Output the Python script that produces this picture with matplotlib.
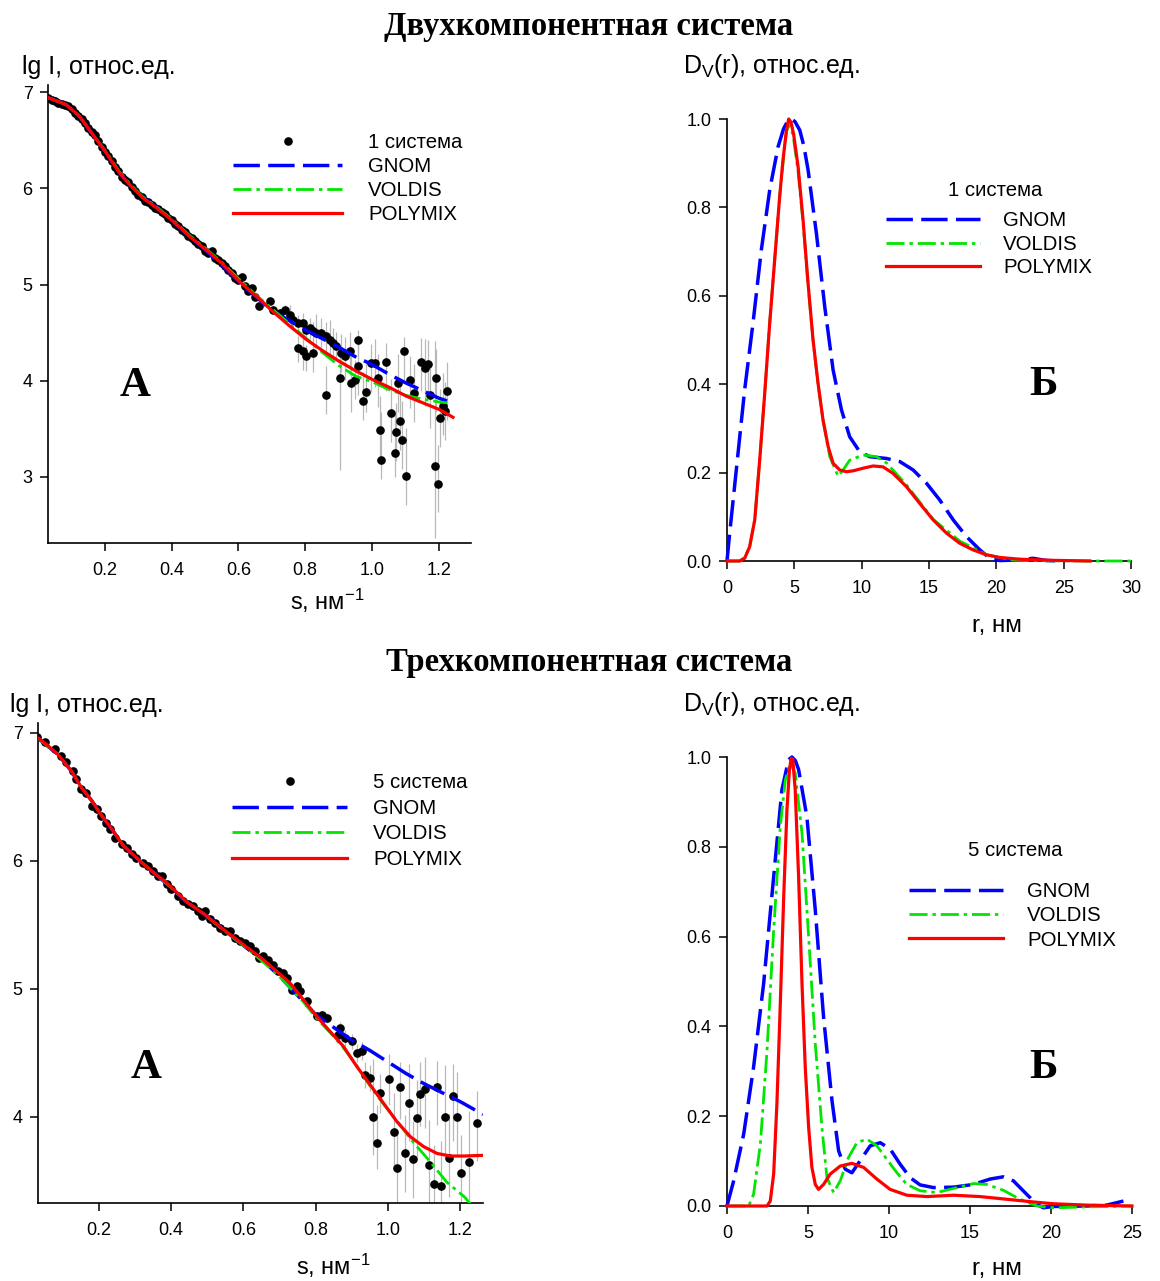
import matplotlib
matplotlib.use('Agg')
import matplotlib.pyplot as plt

plt.rcParams['font.family'] = ['Liberation Sans', 'DejaVu Sans']
plt.rcParams['mathtext.fontset'] = 'custom'
plt.rcParams['mathtext.rm'] = 'Liberation Sans'
plt.rcParams['mathtext.it'] = 'Liberation Sans:italic'
plt.rcParams['lines.scale_dashes'] = False

# ---------------- DATA: two-component system (scattering) ----------------
s1_head = [0.03, 0.04, 0.05, 0.06, 0.07, 0.08, 0.09, 0.10, 0.11, 0.12, 0.13, 0.14, 0.15, 0.16,
           0.17, 0.18, 0.19, 0.20, 0.21, 0.22, 0.23, 0.24, 0.25, 0.26, 0.27, 0.28, 0.29, 0.30,
           0.31, 0.32, 0.33, 0.34, 0.35, 0.36, 0.37, 0.38, 0.39, 0.40, 0.41, 0.42, 0.43, 0.44,
           0.45, 0.46, 0.47, 0.48, 0.49, 0.50, 0.51, 0.52, 0.53, 0.54, 0.55, 0.56, 0.57, 0.58,
           0.59, 0.60, 0.61, 0.62, 0.63, 0.64, 0.65]
lg1_head = [6.94, 6.92, 6.91, 6.89, 6.88, 6.87, 6.85, 6.82, 6.78, 6.75, 6.72, 6.68, 6.63, 6.58,
            6.55, 6.49, 6.43, 6.38, 6.34, 6.28, 6.22, 6.18, 6.12, 6.09, 6.06, 6.01, 5.97, 5.93,
            5.91, 5.87, 5.86, 5.83, 5.80, 5.78, 5.75, 5.73, 5.69, 5.67, 5.63, 5.61, 5.57, 5.55,
            5.50, 5.48, 5.45, 5.42, 5.40, 5.35, 5.33, 5.35, 5.28, 5.25, 5.22, 5.19, 5.15, 5.12,
            5.07, 5.05, 5.08, 4.98, 4.93, 4.96, 4.87]
s1_tail = [0.663, 0.693, 0.703, 0.723, 0.738, 0.753, 0.763, 0.778, 0.778, 0.793, 0.793, 0.803,
           0.803, 0.813, 0.823, 0.823, 0.833, 0.848, 0.863, 0.863, 0.873, 0.883, 0.893, 0.903,
           0.908, 0.918, 0.933, 0.938, 0.948, 0.958, 0.958, 0.973, 0.983, 0.998, 1.008, 1.018,
           1.023, 1.028, 1.043, 1.058, 1.068, 1.073, 1.078, 1.083, 1.091, 1.095, 1.101, 1.113,
           1.125, 1.148, 1.158, 1.168, 1.173, 1.188, 1.193, 1.198, 1.203, 1.213, 1.218, 1.225]
lg1_tail = [4.775, 4.827, 4.740, 4.705, 4.740, 4.688, 4.636, 4.601, 4.341, 4.601, 4.307, 4.532,
            4.255, 4.549, 4.515, 4.289, 4.497, 4.497, 4.463, 3.856, 4.428, 4.393, 4.359, 4.029,
            4.289, 4.255, 4.307, 3.977, 4.012, 4.151, 4.428, 3.787, 3.880, 4.185, 4.185, 4.029,
            3.492, 3.180, 4.192, 3.666, 3.250, 3.464, 3.977, 3.579, 3.388, 4.307, 3.007, 4.012,
            3.873, 4.192, 4.133, 4.178, 3.856, 3.111, 4.029, 2.931, 3.613, 3.735, 3.683, 3.891]
e1_lo = [0.03, 0.03, 0.04, 0.04, 0.05, 0.06, 0.06, 0.08, 0.15, 0.10, 0.20, 0.10,
         0.15, 0.12, 0.10, 0.20, 0.15, 0.15, 0.20, 0.20, 0.15, 0.20, 0.15, 0.96,
         0.20, 0.25, 0.25, 0.30, 0.20, 0.30, 0.20, 0.20, 0.20, 0.30, 0.25, 0.30,
         0.30, 0.20, 0.30, 0.30, 0.25, 0.30, 0.30, 0.30, 0.30, 0.30, 0.30, 0.30,
         0.30, 0.30, 0.40, 0.30, 0.35, 0.75, 0.35, 0.30, 0.30, 0.30, 0.30, 0.30]
e1_hi = [0.03, 0.03, 0.04, 0.04, 0.05, 0.10, 0.06, 0.08, 0.12, 0.10, 0.15, 0.10,
         0.12, 0.10, 0.10, 0.15, 0.20, 0.15, 0.15, 0.30, 0.20, 0.15, 0.15, 0.25,
         0.20, 0.20, 0.20, 0.30, 0.20, 0.25, 0.10, 0.30, 0.30, 0.20, 0.25, 0.25,
         0.35, 0.50, 0.20, 0.35, 0.40, 0.30, 0.30, 0.40, 0.40, 0.15, 0.50, 0.25,
         0.30, 0.25, 0.30, 0.25, 0.30, 1.30, 0.30, 0.40, 0.30, 0.35, 0.30, 0.30]

s1_gnom = [0.03, 0.083, 0.123, 0.163, 0.203, 0.243, 0.273, 0.313, 0.353, 0.403, 0.453, 0.503,
           0.553, 0.603, 0.653, 0.70, 0.75, 0.80, 0.85, 0.90, 0.95, 1.00, 1.05, 1.10, 1.15, 1.20, 1.225]
lg1_gnom = [6.94, 6.87, 6.75, 6.56, 6.37, 6.16, 6.04, 5.91, 5.81, 5.66, 5.50, 5.35,
            5.19, 5.02, 4.87, 4.73, 4.63, 4.53, 4.44, 4.35, 4.25, 4.17, 4.07, 3.98, 3.90, 3.82, 3.79]
s1_voldis = [0.03, 0.083, 0.123, 0.163, 0.203, 0.243, 0.273, 0.313, 0.353, 0.403, 0.453, 0.503,
             0.553, 0.603, 0.653, 0.703, 0.753, 0.803, 0.853, 0.90, 0.95, 1.00, 1.05, 1.10, 1.15, 1.20, 1.225]
lg1_voldis = [6.94, 6.87, 6.75, 6.56, 6.38, 6.17, 6.05, 5.91, 5.81, 5.67, 5.51, 5.37,
              5.22, 5.05, 4.89, 4.74, 4.59, 4.44, 4.29, 4.16, 4.05, 3.99, 3.91, 3.85, 3.81, 3.78, 3.77]
s1_poly = [0.03, 0.083, 0.123, 0.163, 0.203, 0.243, 0.273, 0.313, 0.353, 0.403, 0.453, 0.503,
           0.553, 0.603, 0.653, 0.703, 0.753, 0.803, 0.853, 0.903, 0.953, 1.003, 1.053, 1.103,
           1.153, 1.203, 1.243]
lg1_poly = [6.94, 6.87, 6.75, 6.56, 6.37, 6.16, 6.04, 5.90, 5.80, 5.66, 5.50, 5.36,
            5.21, 5.03, 4.88, 4.72, 4.57, 4.43, 4.31, 4.20, 4.10, 4.01, 3.93, 3.84,
            3.77, 3.70, 3.62]

# ---------------- DATA: two-component system (distributions) ----------------
r1_gnom = [0, 0.2, 0.69, 1.31, 1.93, 2.55, 3.17, 3.79, 4.20, 4.50, 4.78, 5.05, 5.40, 5.70, 6.02,
           6.64, 7.26, 7.88, 8.50, 9.11, 9.86, 10.60, 11.84, 12.83, 13.82, 14.81, 15.80, 16.80,
           17.79, 18.78, 19.52, 20.26, 21.25, 22.74, 23.73, 25.0]
d1_gnom = [0, 0.063, 0.206, 0.387, 0.538, 0.704, 0.839, 0.937, 0.978, 0.995, 1.0, 0.994, 0.975,
           0.94, 0.885, 0.741, 0.575, 0.432, 0.342, 0.281, 0.247, 0.236, 0.232, 0.225, 0.206,
           0.176, 0.138, 0.093, 0.055, 0.025, 0.006, 0.001, 0.002, 0.006, 0.001, 0.0]
r1_voldis = [0, 0.94, 1.31, 1.68, 2.06, 2.43, 2.80, 3.17, 3.54, 3.91, 4.29, 4.45, 4.62, 4.90,
             5.28, 5.65, 6.02, 6.39, 6.76, 7.13, 7.63, 8.25, 8.60, 9.11, 10.11, 11.10, 11.84,
             13.33, 15.31, 17.29, 19.27, 21.25, 24.0, 27.0, 30.0]
d1_voldis = [0, 0, 0.008, 0.032, 0.093, 0.229, 0.379, 0.538, 0.681, 0.824, 0.940, 0.975, 0.985,
             0.965, 0.88, 0.765, 0.625, 0.50, 0.40, 0.32, 0.236, 0.192, 0.205, 0.228, 0.240,
             0.236, 0.222, 0.172, 0.094, 0.045, 0.014, 0.002, 0.0005, 0.0, 0.0]
r1_poly = [0, 0.94, 1.31, 1.68, 2.06, 2.43, 2.80, 3.17, 3.54, 3.91, 4.15, 4.40, 4.58, 4.75, 4.95,
           5.28, 5.65, 6.02, 6.39, 6.76, 7.13, 7.51, 7.88, 8.37, 8.87, 9.36, 10.11, 10.85,
           11.59, 12.34, 13.33, 14.32, 15.31, 16.30, 17.29, 18.28, 19.27, 20.26, 21.75, 24.2, 26.95]
d1_poly = [0, 0, 0.006, 0.032, 0.093, 0.229, 0.379, 0.538, 0.681, 0.824, 0.905, 0.972, 1.0,
           0.993, 0.965, 0.892, 0.771, 0.628, 0.50, 0.402, 0.319, 0.259, 0.221, 0.206, 0.202,
           0.204, 0.210, 0.215, 0.213, 0.198, 0.168, 0.130, 0.093, 0.063, 0.040, 0.025, 0.014,
           0.008, 0.004, 0.0015, 0.0]

# ---------------- DATA: three-component system (scattering) ----------------
s5_head = [0.029, 0.050, 0.078, 0.097, 0.110, 0.129, 0.138, 0.152, 0.166, 0.180, 0.194, 0.207,
           0.221, 0.230, 0.244, 0.263, 0.277, 0.291, 0.304, 0.323, 0.337, 0.351, 0.364, 0.374,
           0.388, 0.401, 0.420, 0.434, 0.448, 0.461, 0.475, 0.485, 0.494, 0.508, 0.521, 0.535,
           0.549, 0.563, 0.577, 0.591, 0.605, 0.618, 0.632, 0.642, 0.655, 0.669, 0.683, 0.697,
           0.711, 0.720]
lg5_head = [6.966, 6.927, 6.875, 6.822, 6.770, 6.705, 6.640, 6.561, 6.535, 6.431, 6.405, 6.352,
            6.300, 6.248, 6.183, 6.130, 6.104, 6.052, 6.026, 5.987, 5.961, 5.922, 5.883, 5.883,
            5.817, 5.778, 5.726, 5.687, 5.661, 5.648, 5.608, 5.569, 5.608, 5.543, 5.517, 5.478,
            5.452, 5.452, 5.399, 5.373, 5.360, 5.334, 5.295, 5.243, 5.256, 5.230, 5.191, 5.138,
            5.125, 5.086]
s5_tail = [0.734, 0.748, 0.757, 0.776, 0.803, 0.817, 0.831, 0.863, 0.868, 0.882, 0.900, 0.914,
           0.928, 0.937, 0.951, 0.960, 0.971, 0.979, 1.002, 1.016, 1.025, 1.034, 1.048, 1.057,
           1.069, 1.080, 1.090, 1.103, 1.113, 1.127, 1.136, 1.147, 1.159, 1.168, 1.180, 1.191,
           1.202, 1.224, 1.247]
lg5_tail = [4.995, 5.021, 4.982, 4.903, 4.786, 4.799, 4.773, 4.642, 4.695, 4.616, 4.590, 4.499,
            4.512, 4.329, 4.303, 4.003, 3.794, 4.185, 4.295, 3.885, 3.598, 4.232, 3.715, 4.112,
            3.668, 3.990, 4.180, 4.217, 3.624, 3.480, 4.238, 3.459, 4.003, 3.676, 4.164, 4.003,
            3.559, 3.650, 3.956]
e5_lo = [0.02, 0.02, 0.03, 0.03, 0.03, 0.03, 0.04, 0.05, 0.05, 0.06, 0.06, 0.07,
         0.07, 0.10, 0.10, 0.30, 0.20, 0.15, 0.20, 0.30, 0.35, 0.25, 0.30, 0.30,
         0.30, 0.30, 0.25, 0.30, 0.30, 0.25, 0.30, 0.30, 0.30, 0.30, 0.35, 0.30,
         0.30, 0.30, 0.30]
e5_hi = [0.02, 0.02, 0.03, 0.03, 0.03, 0.03, 0.04, 0.05, 0.05, 0.06, 0.06, 0.07,
         0.07, 0.10, 0.10, 0.45, 0.30, 0.15, 0.20, 0.30, 0.30, 0.20, 0.30, 0.30,
         0.30, 0.30, 0.25, 0.25, 0.35, 0.30, 0.20, 0.35, 0.40, 0.35, 0.25, 0.35,
         0.30, 0.40, 0.25]

s5_gnom = [0.029, 0.088, 0.125, 0.153, 0.181, 0.204, 0.231, 0.268, 0.314, 0.36, 0.397, 0.443,
           0.489, 0.545, 0.618, 0.655, 0.70, 0.75, 0.80, 0.85, 0.90, 0.95, 1.00, 1.05, 1.10,
           1.15, 1.20, 1.263]
lg5_gnom = [6.966, 6.83, 6.70, 6.57, 6.47, 6.37, 6.27, 6.12, 6.00, 5.89, 5.80, 5.68,
            5.59, 5.465, 5.30, 5.22, 5.10, 4.95, 4.80, 4.70, 4.60, 4.52, 4.43, 4.34, 4.26,
            4.19, 4.12, 4.02]
s5_voldis = [0.029, 0.088, 0.125, 0.153, 0.181, 0.204, 0.231, 0.268, 0.314, 0.36, 0.397, 0.443,
             0.489, 0.545, 0.618, 0.692, 0.766, 0.803, 0.840, 0.877, 0.914, 0.951, 0.988, 1.025,
             1.071, 1.117, 1.163, 1.21, 1.235]
lg5_voldis = [6.966, 6.83, 6.70, 6.57, 6.47, 6.37, 6.27, 6.12, 6.00, 5.89, 5.80, 5.68,
              5.59, 5.46, 5.30, 5.12, 4.90, 4.77, 4.66, 4.54, 4.40, 4.24, 4.10, 3.97,
              3.80, 3.65, 3.49, 3.38, 3.30]
s5_poly = [0.029, 0.047, 0.088, 0.125, 0.153, 0.181, 0.204, 0.231, 0.268, 0.314, 0.36, 0.388,
           0.443, 0.489, 0.545, 0.582, 0.618, 0.655, 0.692, 0.729, 0.766, 0.803, 0.840, 0.877,
           0.914, 0.951, 0.988, 1.025, 1.062, 1.099, 1.136, 1.173, 1.210, 1.263]
lg5_poly = [6.966, 6.93, 6.83, 6.70, 6.57, 6.47, 6.37, 6.27, 6.12, 6.00, 5.89, 5.83,
            5.68, 5.59, 5.465, 5.386, 5.308, 5.230, 5.138, 5.047, 4.916, 4.786, 4.668, 4.551,
            4.394, 4.251, 4.107, 3.963, 3.846, 3.768, 3.715, 3.695, 3.695, 3.700]

# ---------------- DATA: three-component system (distributions) ----------------
r5_gnom = [0, 0.41, 1.03, 1.64, 2.26, 2.88, 3.39, 3.80, 4.01, 4.22, 4.42, 4.93, 5.45, 5.96, 6.48,
           6.89, 7.30, 7.71, 8.22, 8.84, 9.46, 10.07, 10.69, 11.31, 11.92, 12.75, 13.98, 15.21,
           16.24, 17.06, 17.68, 18.50, 19.12, 19.53, 20.15, 22.2, 23.44, 24.47]
d5_gnom = [0, 0.056, 0.160, 0.309, 0.495, 0.733, 0.927, 0.994, 1.0, 0.992, 0.972, 0.867, 0.659,
           0.421, 0.235, 0.123, 0.082, 0.074, 0.101, 0.134, 0.141, 0.127, 0.093, 0.063, 0.047,
           0.041, 0.042, 0.048, 0.060, 0.065, 0.056, 0.026, 0.004, -0.004, -0.001, 0.0, 0.002, 0.011]
r5_voldis = [0, 1.34, 1.64, 2.06, 2.47, 2.88, 3.29, 3.60, 3.91, 4.21, 4.63, 5.04, 5.45, 5.86,
             6.17, 6.58, 6.99, 7.50, 8.02, 8.63, 9.25, 9.87, 10.49, 11.10, 11.92, 12.95, 13.98,
             15.21, 16.04, 17.06, 18.09, 19.12, 20.15, 22.2, 25.0]
d5_voldis = [0, 0, 0.026, 0.138, 0.346, 0.614, 0.845, 0.949, 0.987, 0.964, 0.830, 0.599, 0.361,
             0.175, 0.063, 0.030, 0.056, 0.108, 0.141, 0.149, 0.134, 0.104, 0.074, 0.048, 0.034,
             0.030, 0.039, 0.050, 0.048, 0.035, 0.015, 0.0, -0.004, -0.002, 0.0]
r5_poly = [0, 2.47, 2.67, 2.88, 3.08, 3.29, 3.50, 3.70, 3.85, 3.96, 4.06, 4.21, 4.42, 4.63, 4.83,
           5.04, 5.24, 5.45, 5.65, 5.96, 6.37, 6.99, 7.71, 8.43, 9.25, 10.07, 11.10, 12.34, 13.98,
           15.62, 17.27, 18.91, 20.15, 22.2, 25.0]
d5_poly = [0, 0, 0.011, 0.071, 0.227, 0.450, 0.689, 0.882, 0.970, 0.997, 0.995, 0.927, 0.733,
           0.495, 0.309, 0.175, 0.086, 0.048, 0.037, 0.048, 0.071, 0.089, 0.095, 0.086, 0.060,
           0.037, 0.024, 0.021, 0.024, 0.021, 0.015, 0.009, 0.005, 0.002, 0.0]

# ---------------- TEXT ----------------
title_top = "Двухкомпонентная система"
title_bot = "Трехкомпонентная система"
ylab_I = "lg I, относ.ед."
ylab_D = "D$_\\mathrm{V}$(r), относ.ед."
xlab_s = "s, нм$^{-1}$"
xlab_r = "r, нм"
series = ["GNOM", "VOLDIS", "POLYMIX"]

# ---------------- STYLE ----------------
C_BLUE, C_GREEN, C_RED = '#0000ff', '#00e600', '#ff0000'
ST = {
    'GNOM': dict(color=C_BLUE, lw=2.5, dashes=(19, 6)),
    'VOLDIS': dict(color=C_GREEN, lw=2.0, dashes=(13, 3.5, 2.5, 3.5)),
    'POLYMIX': dict(color=C_RED, lw=2.3, linestyle='-'),
}
FS_LEG = 14.7

W, H = 1160, 1281
fig = plt.figure(figsize=(W / 100, H / 100), dpi=100)


def ax_px(l, t, r, b):
    return fig.add_axes([l / W, 1 - b / H, (r - l) / W, (b - t) / H])


def ftext(x, y, s, **kw):
    fig.text(x / W, 1 - y / H, s, **kw)


def style_axes(ax):
    for sp in ('top', 'right'):
        ax.spines[sp].set_visible(False)
    for sp in ('left', 'bottom'):
        ax.spines[sp].set_linewidth(1.2)
    ax.tick_params(direction='out', length=6, width=1.1, labelsize=13, colors='black')
    ax.tick_params(axis='y', pad=5)
    ax.tick_params(axis='x', pad=8)


def scatter_panel(ax, sh, lh, st, lt, elo, ehi, curves, label):
    ax.errorbar(st, lt, yerr=[elo, ehi], fmt='none', ecolor='#b8b8b8', elinewidth=0.9, zorder=1)
    pts, = ax.plot(list(sh) + list(st), list(lh) + list(lt), 'o', color='black', ms=5.2,
                   mec='black', zorder=2, label=label)
    hs = [pts]
    for name, (xs, ys) in zip(series, curves):
        ln, = ax.plot(xs, ys, label=name, zorder=3, **ST[name])
        hs.append(ln)
    return hs


def dist_panel(ax, curves):
    hs = []
    for name, (xs, ys) in zip(series, curves):
        ln, = ax.plot(xs, ys, label=name, clip_on=False, zorder=3, **ST[name])
        hs.append(ln)
    return hs


# ---- top-left
ax1 = ax_px(48, 85, 471, 543)
hs = scatter_panel(ax1, s1_head, lg1_head, s1_tail, lg1_tail, e1_lo, e1_hi,
                   [(s1_gnom, lg1_gnom), (s1_voldis, lg1_voldis), (s1_poly, lg1_poly)], "1 система")
ax1.set_xlim(0.029, 1.297)
ax1.set_ylim(2.314, 7.073)
ax1.set_xticks([0.2, 0.4, 0.6, 0.8, 1.0, 1.2])
ax1.set_xticklabels(['0.2', '0.4', '0.6', '0.8', '1.0', '1.2'])
ax1.set_yticks([3, 4, 5, 6, 7])
style_axes(ax1)
ax1.legend(handles=hs, loc='upper left', bbox_to_anchor=((233 - 48) / 423, (543 - 133) / 458),
           frameon=False, fontsize=FS_LEG, handlelength=5.34, handletextpad=1.27,
           labelspacing=0.25, borderpad=0, borderaxespad=0, numpoints=1)

# ---- top-right
ax2 = ax_px(727, 119, 1131, 561)
hs = dist_panel(ax2, [(r1_gnom, d1_gnom), (r1_voldis, d1_voldis), (r1_poly, d1_poly)])
ax2.set_xlim(0, 30)
ax2.set_ylim(0, 1.0)
ax2.set_xticks([0, 5, 10, 15, 20, 25, 30])
ax2.set_yticks([0, 0.2, 0.4, 0.6, 0.8, 1.0])
ax2.set_yticklabels(['0.0', '0.2', '0.4', '0.6', '0.8', '1.0'])
style_axes(ax2)
ax2.legend(handles=hs, loc='upper left', bbox_to_anchor=((886 - 727) / 404, (561 - 211) / 442),
           frameon=False, fontsize=FS_LEG, handlelength=4.6, handletextpad=1.13,
           labelspacing=0.23, borderpad=0, borderaxespad=0)

# ---- bottom-left
ax3 = ax_px(38, 723, 483, 1203)
hs = scatter_panel(ax3, s5_head, lg5_head, s5_tail, lg5_tail, e5_lo, e5_hi,
                   [(s5_gnom, lg5_gnom), (s5_voldis, lg5_voldis), (s5_poly, lg5_poly)], "5 система")
ax3.set_xlim(0.032, 1.263)
ax3.set_ylim(3.328, 7.078)
ax3.set_xticks([0.2, 0.4, 0.6, 0.8, 1.0, 1.2])
ax3.set_xticklabels(['0.2', '0.4', '0.6', '0.8', '1.0', '1.2'])
ax3.set_yticks([4, 5, 6, 7])
style_axes(ax3)
ax3.legend(handles=hs, loc='upper left', bbox_to_anchor=((232 - 38) / 445, (1203 - 773) / 480),
           frameon=False, fontsize=FS_LEG, handlelength=5.64, handletextpad=1.27,
           labelspacing=0.33, borderpad=0, borderaxespad=0, numpoints=1)

# ---- bottom-right
ax4 = ax_px(727, 757, 1132, 1206)
hs = dist_panel(ax4, [(r5_gnom, d5_gnom), (r5_voldis, d5_voldis), (r5_poly, d5_poly)])
ax4.set_xlim(0, 25)
ax4.set_ylim(0, 1.0)
ax4.set_xticks([0, 5, 10, 15, 20, 25])
ax4.set_yticks([0, 0.2, 0.4, 0.6, 0.8, 1.0])
ax4.set_yticklabels(['0.0', '0.2', '0.4', '0.6', '0.8', '1.0'])
style_axes(ax4)
ax4.legend(handles=hs, loc='upper left', bbox_to_anchor=((909 - 727) / 405, (1206 - 882) / 449),
           frameon=False, fontsize=FS_LEG, handlelength=4.6, handletextpad=1.18,
           labelspacing=0.26, borderpad=0, borderaxespad=0)

# ---- free texts
serif = ['Liberation Serif', 'DejaVu Serif']
ftext(589, 26, title_top, ha='center', va='center', fontsize=23.5, fontweight='bold', family=serif)
ftext(589, 663, title_bot, ha='center', va='center', fontsize=23.5, fontweight='bold', family=serif)

ftext(22, 74, ylab_I, ha='left', va='baseline', fontsize=18)
ftext(10, 712, ylab_I, ha='left', va='baseline', fontsize=18)
ftext(683, 73, ylab_D, ha='left', va='baseline', fontsize=18)
ftext(683, 711, ylab_D, ha='left', va='baseline', fontsize=18)

ftext(327, 610, xlab_s, ha='center', va='baseline', fontsize=17)
ftext(333, 1275, xlab_s, ha='center', va='baseline', fontsize=17)
ftext(997, 632, xlab_r, ha='center', va='baseline', fontsize=17.5)
ftext(997, 1275, xlab_r, ha='center', va='baseline', fontsize=17.5)

ftext(995, 190, "1 система", ha='center', va='center', fontsize=FS_LEG)
ftext(1015, 851, "5 система", ha='center', va='center', fontsize=FS_LEG)

ftext(135, 386, "А", ha='center', va='center', fontsize=31, fontweight='bold', family=serif)
ftext(1043, 385, "Б", ha='center', va='center', fontsize=31, fontweight='bold', family=serif)
ftext(146, 1068, "А", ha='center', va='center', fontsize=31, fontweight='bold', family=serif)
ftext(1043, 1068, "Б", ha='center', va='center', fontsize=31, fontweight='bold', family=serif)

fig.savefig('out.png', dpi=100)
